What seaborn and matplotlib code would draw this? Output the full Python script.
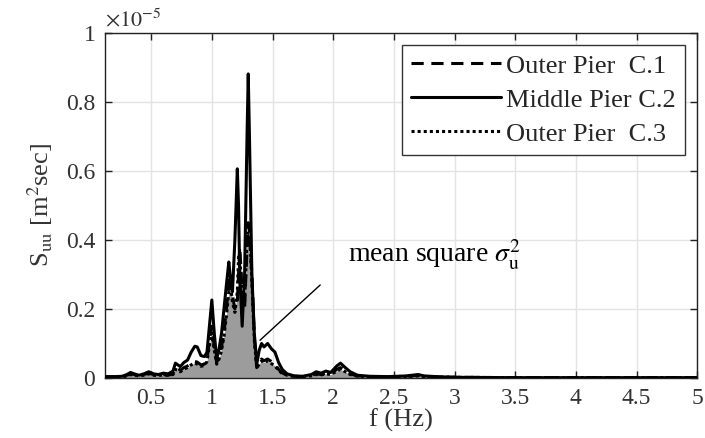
import matplotlib
matplotlib.use("Agg")
import matplotlib.pyplot as plt
import seaborn as sns
import pandas as pd
from matplotlib.ticker import FixedLocator, FuncFormatter

# ---- data (S_uu in units of 1e-5 m^2 sec) ----
freq = [0.12, 0.20, 0.26, 0.30, 0.33, 0.36, 0.40, 0.44, 0.48, 0.52, 0.56, 0.60,
        0.64, 0.68, 0.70, 0.72, 0.74, 0.77, 0.80, 0.83, 0.86, 0.88, 0.91, 0.94,
        0.96, 0.98, 1.00, 1.02, 1.04, 1.06, 1.08, 1.10, 1.12, 1.14, 1.15, 1.17,
        1.19, 1.21, 1.22, 1.23, 1.25, 1.27, 1.29, 1.30, 1.31, 1.33, 1.35, 1.37,
        1.39, 1.41, 1.43, 1.46, 1.49, 1.52, 1.55, 1.58, 1.62, 1.68, 1.75, 1.82,
        1.86, 1.90, 1.94, 1.98, 2.03, 2.06, 2.10, 2.14, 2.20, 2.30, 2.45, 2.60,
        2.70, 2.75, 2.85, 3.00, 3.50, 4.00, 5.00]
outer_c1 = [0.003, 0.003, 0.004, 0.008, 0.012, 0.010, 0.006, 0.010, 0.014, 0.010, 0.008, 0.010,
            0.008, 0.012, 0.030, 0.028, 0.022, 0.030, 0.035, 0.042, 0.048, 0.046, 0.038, 0.040,
            0.055, 0.110, 0.150, 0.090, 0.045, 0.060, 0.090, 0.130, 0.200, 0.270, 0.300, 0.240,
            0.200, 0.220, 0.300, 0.380, 0.250, 0.200, 0.380, 0.450, 0.420, 0.300, 0.120, 0.030,
            0.045, 0.055, 0.050, 0.055, 0.048, 0.040, 0.025, 0.015, 0.008, 0.005, 0.004, 0.008,
            0.012, 0.010, 0.014, 0.012, 0.025, 0.030, 0.022, 0.012, 0.006, 0.004, 0.003, 0.005,
            0.008, 0.005, 0.003, 0.002, 0.001, 0.001, 0.001]
middle_c2 = [0.004, 0.004, 0.005, 0.010, 0.016, 0.012, 0.008, 0.012, 0.018, 0.012, 0.010, 0.014,
             0.012, 0.020, 0.043, 0.038, 0.033, 0.045, 0.052, 0.075, 0.092, 0.090, 0.065, 0.062,
             0.075, 0.150, 0.226, 0.130, 0.055, 0.085, 0.130, 0.200, 0.270, 0.336, 0.300, 0.250,
             0.400, 0.606, 0.500, 0.300, 0.150, 0.300, 0.700, 0.881, 0.700, 0.300, 0.130, 0.040,
             0.080, 0.100, 0.090, 0.100, 0.085, 0.075, 0.045, 0.025, 0.012, 0.006, 0.005, 0.010,
             0.018, 0.014, 0.020, 0.016, 0.035, 0.043, 0.030, 0.018, 0.008, 0.005, 0.004, 0.006,
             0.010, 0.006, 0.004, 0.002, 0.001, 0.001, 0.001]
outer_c3 = [0.002, 0.003, 0.003, 0.006, 0.010, 0.008, 0.006, 0.008, 0.012, 0.008, 0.007, 0.009,
            0.008, 0.010, 0.025, 0.022, 0.018, 0.026, 0.030, 0.038, 0.044, 0.040, 0.034, 0.036,
            0.048, 0.095, 0.130, 0.080, 0.040, 0.055, 0.080, 0.120, 0.180, 0.250, 0.280, 0.220,
            0.190, 0.250, 0.350, 0.360, 0.230, 0.220, 0.400, 0.440, 0.430, 0.280, 0.110, 0.028,
            0.040, 0.050, 0.045, 0.050, 0.042, 0.035, 0.022, 0.013, 0.008, 0.004, 0.004, 0.006,
            0.010, 0.009, 0.012, 0.010, 0.020, 0.025, 0.018, 0.010, 0.005, 0.003, 0.003, 0.004,
            0.006, 0.004, 0.003, 0.002, 0.001, 0.001, 0.001]
series_names = ["Outer Pier  C.1", "Middle Pier C.2", "Outer Pier  C.3"]
x_ticks = [0.5, 1, 1.5, 2, 2.5, 3, 3.5, 4, 4.5, 5]
y_ticks = [0, 0.2, 0.4, 0.6, 0.8, 1]

sns.set_theme(style="whitegrid")
plt.rcParams["font.family"] = ["Liberation Serif", "DejaVu Serif"]
plt.rcParams["mathtext.fontset"] = "stix"

fig = plt.figure(figsize=(7.05, 4.38), dpi=100)
ax = fig.add_axes([0.149, 0.137, 0.840, 0.788])

ax.fill_between(freq, outer_c3, color="#9c9c9c", lw=0, zorder=1)

df1 = pd.DataFrame({"f": freq, "S": outer_c1})
df2 = pd.DataFrame({"f": freq, "S": middle_c2})
df3 = pd.DataFrame({"f": freq, "S": outer_c3})
sns.lineplot(data=df1, x="f", y="S", ax=ax, color="black", lw=2.2,
             linestyle=(0, (4, 2.5)), label=series_names[0], zorder=3)
sns.lineplot(data=df2, x="f", y="S", ax=ax, color="black", lw=2.2,
             linestyle="-", label=series_names[1], zorder=4)
sns.lineplot(data=df3, x="f", y="S", ax=ax, color="black", lw=2.2,
             linestyle=(0, (1, 1)), label=series_names[2], zorder=3)

ax.set_xlim(0.12, 5)
ax.set_ylim(0, 1)
ax.xaxis.set_major_locator(FixedLocator(x_ticks))
ax.yaxis.set_major_locator(FixedLocator(y_ticks))
ax.xaxis.set_major_formatter(FuncFormatter(lambda v, p: f"{v:g}"))
ax.yaxis.set_major_formatter(FuncFormatter(lambda v, p: f"{v:g}"))

ax.grid(True, color="#e3e3e3", lw=1.0)
ax.set_facecolor("white")
for s in ax.spines.values():
    s.set_color("#222222")
    s.set_linewidth(1.0)
ax.tick_params(axis="both", which="major", direction="in", length=5, width=1,
               colors="#222222", labelsize=17, top=True, right=True,
               bottom=True, left=True, pad=7)
for lab in ax.get_xticklabels() + ax.get_yticklabels():
    lab.set_color("#333333")

ax.set_xlabel("f (Hz)", fontsize=19, color="#333333", labelpad=0)
ax.set_ylabel(r"S$_{\rm uu}$ [m$^2$sec]", fontsize=19, color="#333333", labelpad=8)

ax.text(0.0, 1.005, r"$\times10^{-5}$", transform=ax.transAxes, fontsize=16,
        color="#333333", ha="left", va="bottom")

ax.annotate("", xy=(1.38, 0.104), xytext=(1.91, 0.275),
            arrowprops=dict(arrowstyle="-", color="black", lw=1.0))
ax.text(2.12, 0.335, r"mean square $\sigma_{\rm u}^{2}$", fontsize=20,
        color="black", ha="left", va="baseline")

leg = ax.legend(loc="upper right", fontsize=19, frameon=True, fancybox=False,
                edgecolor="#333333", framealpha=1, handlelength=3.4,
                handletextpad=0.2, borderpad=0.35, labelspacing=0.4,
                borderaxespad=0, bbox_to_anchor=(0.98, 0.965))
leg.get_frame().set_linewidth(1.0)

fig.savefig("out.png", dpi=100)
